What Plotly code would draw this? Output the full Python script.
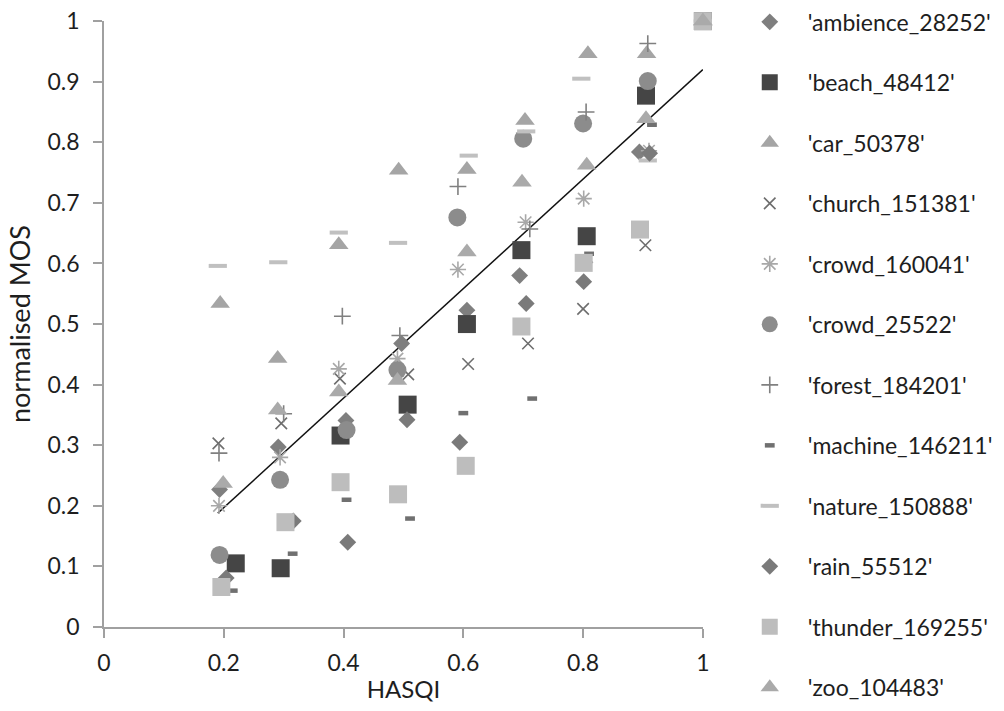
import plotly.graph_objects as go

series_names = ["'ambience_28252'", "'beach_48412'", "'car_50378'", "'church_151381'",
                "'crowd_160041'", "'crowd_25522'", "'forest_184201'", "'machine_146211'",
                "'nature_150888'", "'rain_55512'", "'thunder_169255'", "'zoo_104483'"]

hasqi_ambience = [0.193, 0.291, 0.404, 0.497, 0.606, 0.694, 0.803, 0.894, 1.0]
mos_ambience = [0.227, 0.297, 0.341, 0.468, 0.523, 0.580, 0.602, 0.784, 1.0]
hasqi_beach = [0.220, 0.295, 0.395, 0.507, 0.606, 0.697, 0.806, 0.905, 1.0]
mos_beach = [0.105, 0.097, 0.316, 0.367, 0.500, 0.622, 0.645, 0.877, 1.0]
hasqi_car = [0.194, 0.290, 0.392, 0.492, 0.606, 0.703, 0.808, 0.906, 1.0]
mos_car = [0.534, 0.443, 0.631, 0.754, 0.755, 0.836, 0.946, 0.946, 1.0]
hasqi_church = [0.191, 0.296, 0.394, 0.508, 0.608, 0.708, 0.800, 0.904, 1.0]
mos_church = [0.303, 0.336, 0.410, 0.417, 0.434, 0.468, 0.525, 0.630, 1.0]
hasqi_crowd1 = [0.192, 0.294, 0.392, 0.490, 0.591, 0.704, 0.801, 0.910, 1.0]
mos_crowd1 = [0.200, 0.280, 0.426, 0.443, 0.590, 0.668, 0.707, 0.786, 1.0]
hasqi_crowd2 = [0.193, 0.294, 0.405, 0.490, 0.590, 0.700, 0.800, 0.908, 1.0]
mos_crowd2 = [0.119, 0.243, 0.325, 0.424, 0.676, 0.806, 0.831, 0.901, 1.0]
hasqi_forest = [0.192, 0.300, 0.398, 0.494, 0.591, 0.711, 0.805, 0.908, 1.0]
mos_forest = [0.287, 0.352, 0.513, 0.481, 0.727, 0.657, 0.850, 0.963, 1.0]
hasqi_machine = [0.215, 0.315, 0.405, 0.511, 0.600, 0.715, 0.810, 0.915, 1.0]
mos_machine = [0.060, 0.121, 0.210, 0.179, 0.353, 0.377, 0.616, 0.829, 1.0]
hasqi_nature = [0.190, 0.291, 0.392, 0.491, 0.609, 0.705, 0.797, 0.908, 1.0]
mos_nature = [0.596, 0.602, 0.651, 0.634, 0.778, 0.818, 0.905, 0.770, 1.0]
hasqi_rain = [0.204, 0.316, 0.407, 0.506, 0.594, 0.705, 0.801, 0.911, 1.0]
mos_rain = [0.081, 0.175, 0.140, 0.342, 0.305, 0.534, 0.570, 0.782, 1.0]
hasqi_thunder = [0.196, 0.303, 0.395, 0.491, 0.604, 0.697, 0.801, 0.895, 1.0]
mos_thunder = [0.066, 0.173, 0.239, 0.219, 0.266, 0.496, 0.601, 0.656, 1.0]
hasqi_zoo = [0.199, 0.290, 0.392, 0.490, 0.606, 0.698, 0.806, 0.905, 1.0]
mos_zoo = [0.237, 0.358, 0.388, 0.407, 0.619, 0.734, 0.762, 0.839, 1.0]

trend_hasqi = [0.19, 1.0]
trend_mos = [0.188, 0.92]

x_tick_vals = [0, 0.2, 0.4, 0.6, 0.8, 1]
x_tick_text = ["0", "0.2", "0.4", "0.6", "0.8", "1"]
y_tick_vals = [0, 0.1, 0.2, 0.3, 0.4, 0.5, 0.6, 0.7, 0.8, 0.9, 1]
y_tick_text = ["0", "0.1", "0.2", "0.3", "0.4", "0.5", "0.6", "0.7", "0.8", "0.9", "1"]

x_title = "HASQI"
y_title = "normalised MOS"

xs = [hasqi_ambience, hasqi_beach, hasqi_car, hasqi_church, hasqi_crowd1, hasqi_crowd2,
      hasqi_forest, hasqi_machine, hasqi_nature, hasqi_rain, hasqi_thunder, hasqi_zoo]
ys = [mos_ambience, mos_beach, mos_car, mos_church, mos_crowd1, mos_crowd2,
      mos_forest, mos_machine, mos_nature, mos_rain, mos_thunder, mos_zoo]

styles = [
    dict(symbol="diamond", size=13, color="#7f7f7f"),
    dict(symbol="square", size=18, color="#454545"),
    dict(symbol="triangle-up", size=17, color="#a5a5a5"),
    dict(symbol="x-thin-open", size=11.5, color="#6e6e6e", line=dict(width=1.6, color="#6e6e6e")),
    dict(symbol="asterisk-open", size=13.5, color="#a8a8a8", line=dict(width=1.6, color="#a8a8a8")),
    dict(symbol="circle", size=18, color="#8c8c8c"),
    dict(symbol="cross-thin-open", size=12, color="#808080", line=dict(width=1.6, color="#808080")),
    dict(symbol="line-ew-open", size=7, color="#707070", line=dict(width=4.5, color="#707070")),
    dict(symbol="line-ew-open", size=13, color="#c0c0c0", line=dict(width=4, color="#c0c0c0")),
    dict(symbol="diamond", size=13, color="#7a7a7a"),
    dict(symbol="square", size=18, color="#bdbdbd"),
    dict(symbol="triangle-up", size=17, color="#aaaaaa"),
]

font_family = "Lato, 'Open Sans', sans-serif"
text_color = "#1e1e1e"

fig = go.Figure()
fig.add_trace(go.Scatter(x=trend_hasqi, y=trend_mos, mode="lines",
                         line=dict(color="#111111", width=1.5), showlegend=False,
                         hoverinfo="skip", cliponaxis=False))

for i, (name, x, y, st) in enumerate(zip(series_names, xs, ys, styles)):
    marker = dict(symbol=st["symbol"], size=st["size"], color=st["color"])
    if "line" in st:
        marker["line"] = st["line"]
    else:
        marker["line"] = dict(width=0)
    fig.add_trace(go.Scatter(x=x, y=y, mode="markers", name=name, marker=marker,
                             legendgroup="g%d" % i, cliponaxis=False))

axis_color = "#a0a0a0"
fig.update_layout(
    width=996, height=703,
    margin=dict(l=96, r=301, t=13, b=84, autoexpand=False),
    paper_bgcolor="white", plot_bgcolor="white",
    font=dict(family=font_family, size=23, color=text_color),
    xaxis=dict(range=[0, 1.0002], showgrid=False, zeroline=False, showline=True,
               linecolor=axis_color, linewidth=1.5, ticks="outside", ticklen=9,
               tickwidth=1.5, tickcolor=axis_color, tickvals=x_tick_vals,
               ticktext=x_tick_text, ticklabelstandoff=6, automargin=False,
               tickfont=dict(size=23), ticklabeloverflow="allow",
               title=dict(text=x_title, standoff=6, font=dict(size=24))),
    yaxis=dict(range=[0, 1.0002], showgrid=False, zeroline=False, showline=True,
               linecolor=axis_color, linewidth=1.5, ticks="outside", ticklen=9,
               tickwidth=1.5, tickcolor=axis_color, tickvals=y_tick_vals,
               ticktext=y_tick_text, ticklabelstandoff=9, automargin=False,
               tickfont=dict(size=23), ticklabeloverflow="allow"),
    legend=dict(x=1.048, xanchor="left", y=1.034, yanchor="top",
                font=dict(size=23, color=text_color), itemwidth=66,
                tracegroupgap=27.6, maxheight=730, bgcolor="rgba(0,0,0,0)"),
    annotations=[dict(text=y_title, xref="paper", yref="paper", x=-0.1419, y=0.5,
                      xanchor="center", yanchor="middle", textangle=-90,
                      showarrow=False, font=dict(size=27, color=text_color))],
    showlegend=True,
)

fig.write_html("out.html")
